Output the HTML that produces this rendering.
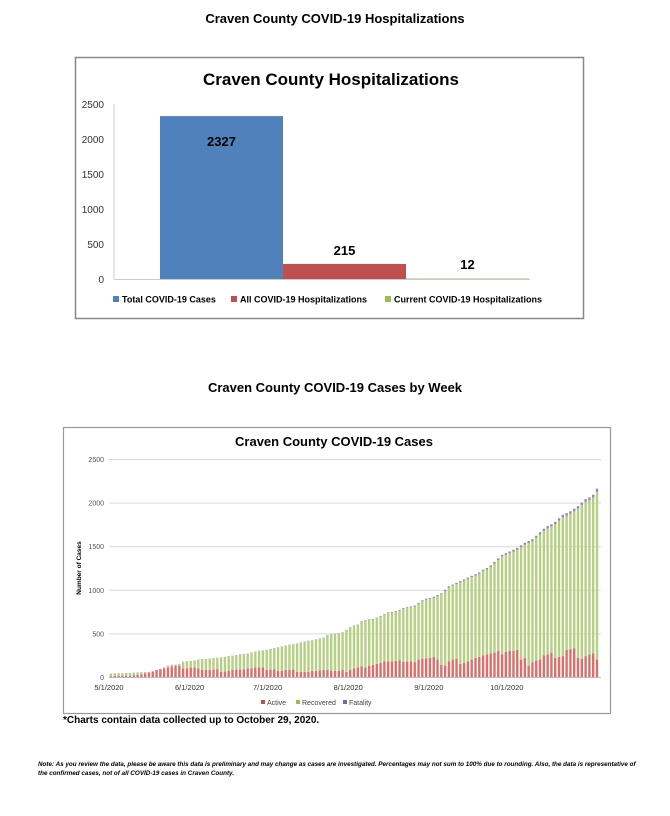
<!DOCTYPE html>
<html><head><meta charset="utf-8">
<style>
body{margin:0;width:670px;height:816px;background:#fff;font-family:"Liberation Sans",sans-serif;position:relative;overflow:hidden}
.h{position:absolute;left:0;width:670px;text-align:center;font-weight:bold;font-size:13px;color:#000}
svg text{font-family:"Liberation Sans",sans-serif}
</style></head><body>
<div class="h" style="top:11px">Craven County COVID-19 Hospitalizations</div>
<svg style="position:absolute;left:0;top:0" width="670" height="816" id="s1"></svg>
<div class="h" style="top:380px">Craven County COVID-19 Cases by Week</div>
<div style="position:absolute;left:63px;top:715px;font-size:10px;font-weight:bold">*Charts contain data collected up to October 29, 2020.</div>
<div style="position:absolute;left:38px;top:760px;width:600px;font-size:6.3px;font-style:italic;font-weight:bold;line-height:9px">Note: As you review the data, please be aware this data is preliminary and may change as cases are investigated. Percentages may not sum to 100% due to rounding. Also, the data is representative of the confirmed cases, not of all COVID-19 cases in Craven County.</div>
<script>
const hospCats=["Total COVID-19 Cases","All COVID-19 Hospitalizations","Current COVID-19 Hospitalizations"];
const hospVals=[2327,215,12];
const hospColors=["#4f81bd","#c0504d","#c9d9a4"];
const hospTicks=[0,500,1000,1500,2000,2500];

const months=["5/1/2020","6/1/2020","7/1/2020","8/1/2020","9/1/2020","10/1/2020"];
const caseTicks=[0,500,1000,1500,2000,2500];
const totalCases=[40,42,43,44,45,46,50,52,54,55,56,70,80,90,110,130,140,140,150,175,180,
185,190,200,205,205,210,215,220,225,230,240,245,250,260,265,270,280,290,300,305,310,320,
330,340,350,360,370,375,385,395,405,415,420,430,440,450,480,490,495,500,510,540,570,590,600,
640,650,660,665,680,700,720,740,745,755,770,790,800,810,820,850,880,900,905,920,940,
960,1000,1040,1060,1080,1100,1120,1140,1160,1180,1200,1230,1250,1280,1320,1360,1400,1420,1440,1460,1480,1510,
1540,1560,1580,1620,1660,1700,1730,1750,1780,1820,1860,1880,1900,1930,1960,2000,2040,2060,2090,2160];
const activeCases=[10,12,14,15,15,15,20,25,30,40,50,60,80,90,100,110,120,130,130,100,100,
110,110,100,80,80,80,85,90,60,65,70,80,85,85,90,100,100,110,110,110,80,85,
90,70,70,80,80,85,60,60,60,60,70,70,75,80,80,70,70,70,80,60,80,100,110,
120,110,130,140,150,160,180,180,180,185,190,175,180,180,170,200,210,215,220,230,200,
140,130,180,200,210,150,160,180,200,220,230,250,260,270,280,300,260,290,300,300,310,200,
220,130,170,190,200,250,260,280,220,230,240,310,320,330,220,210,240,260,270,200];
const fatalCases=[2,2,2,2,2,2,2,2,3,3,3,3,3,3,3,3,3,3,3,3,3,
3,3,3,3,3,3,3,3,3,3,3,3,3,3,3,3,4,4,4,4,4,4,
4,4,4,4,4,4,4,4,5,5,5,5,5,5,5,5,6,6,6,6,6,6,6,
7,7,7,7,7,8,8,8,8,9,9,9,9,10,10,10,11,11,11,12,12,
12,13,13,13,14,14,14,15,15,16,16,17,17,18,18,19,20,20,21,21,22,22,
23,23,24,24,25,25,26,26,27,27,28,28,29,29,30,30,31,32,33,34];

const NS="http://www.w3.org/2000/svg";
const s=document.getElementById('s1');
function mk(t,a,txt){const e=document.createElementNS(NS,t);for(const k in a)e.setAttribute(k,a[k]);if(txt!==undefined)e.textContent=txt;s.appendChild(e);return e;}

// Chart 1
let e=mk('rect',{x:75.5,y:57.5,width:508,height:261,fill:'#fff',stroke:'#888','stroke-width':1.5});

e=mk('text',{x:331,y:85,'text-anchor':'middle','font-size':17,'font-weight':'bold'},'Craven County Hospitalizations');

const y1=v=>279-v/2500*175;
mk('line',{x1:114,y1:104,x2:114,y2:279,stroke:'#ccc'});
mk('line',{x1:114,y1:279.5,x2:530,y2:279.5,stroke:'#ccc'});
hospTicks.forEach(t=>{e=mk('text',{x:104,y:y1(t)+4,'text-anchor':'end','font-size':10,fill:'#333'},t);
});
const bx0=160,bw=123;
hospVals.forEach((v,i)=>{
 e=mk('rect',{x:bx0+i*bw,y:y1(v),width:bw,height:279-y1(v),fill:hospColors[i]});
 
 const ly=v>1000?y1(v)+30:y1(v)-9;
 e=mk('text',{x:bx0+i*bw+bw/2,y:ly,'text-anchor':'middle','font-size':13,'font-weight':'bold'},v);
 
});
const legX=[113,231,385];
hospCats.forEach((c,i)=>{
 e=mk('rect',{x:legX[i],y:296,width:6,height:6,fill:hospColors[i]==="#c9d9a4"?"#9bbb59":hospColors[i]});
 
 e=mk('text',{x:legX[i]+9,y:302.5,'font-size':9,'font-weight':'bold'},c);
 
});

// Chart 2
e=mk('rect',{x:63.5,y:427.5,width:547,height:286,fill:'#fff',stroke:'#999','stroke-width':1.2});

e=mk('text',{x:334,y:446,'text-anchor':'middle','font-size':13,'font-weight':'bold'},'Craven County COVID-19 Cases');

const y2=v=>677-v/2500*218;
caseTicks.forEach(t=>{
 if(t>0)mk('line',{x1:109,y1:y2(t)+.5,x2:601,y2:y2(t)+.5,stroke:'#d9d9d9'});
 e=mk('text',{x:104,y:y2(t)+3,'text-anchor':'end','font-size':7,fill:'#555'},t);
 
});
mk('line',{x1:109,y1:677.5,x2:601,y2:677.5,stroke:'#bbb'});
e=mk('text',{x:0,y:0,'font-size':6.5,'font-weight':'bold','text-anchor':'middle',transform:'translate(81,568) rotate(-90)'},'Number of Cases');

const d0=Date.UTC(2020,4,1),pxDay=2.6,xd=ms=>109+(ms-d0)/86400000*pxDay;
months.forEach(m=>{const p=m.split('/');
 e=mk('text',{x:xd(Date.UTC(+p[2],+p[0]-1,+p[1])),y:690,'text-anchor':'middle','font-size':7.5,fill:'#333'},m);
 });
const n=totalCases.length,xStart=111,xEnd=597,step=(xEnd-xStart)/(n-1);
totalCases.forEach((tot,i)=>{
 const x=xStart+i*step-1.2,w=2.4,a=activeCases[i],f=fatalCases[i],r=tot-a-f;
 e=mk('rect',{x:x,y:y2(a),width:w,height:677-y2(a),fill:'#d9706c'});
 
 e=mk('rect',{x:x,y:y2(a+r),width:w,height:y2(a)-y2(a+r),fill:'#b5d082'});
 
 e=mk('rect',{x:x,y:y2(tot),width:w,height:y2(a+r)-y2(tot),fill:'#9a83bd'});
 
});
[["Active","#c0504d",261],["Recovered","#9bbb59",296],["Fatality","#8064a2",343]].forEach(l=>{
 e=mk('rect',{x:l[2],y:700,width:4,height:4,fill:l[1]});
 
 e=mk('text',{x:l[2]+6,y:705,'font-size':7,fill:'#444'},l[0]);
 
});
</script>
</body></html>
